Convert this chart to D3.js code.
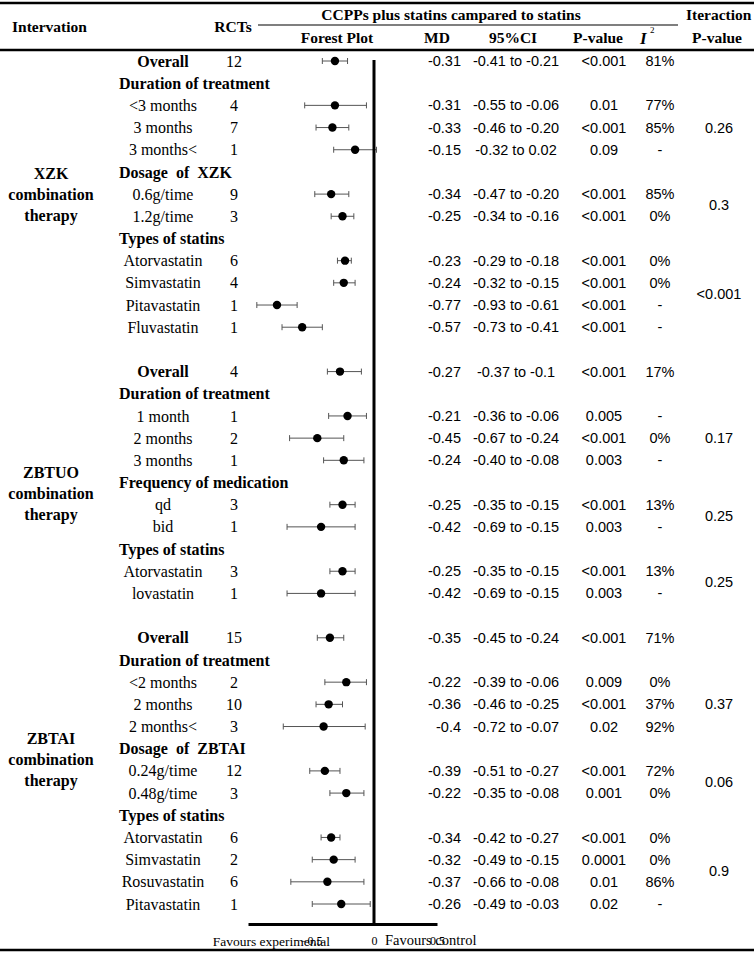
<!DOCTYPE html>
<html>
<head>
<meta charset="utf-8">
<script src="https://cdn.jsdelivr.net/npm/d3@7"></script>
<style>
  body { margin: 0; background: #fff; }
  svg { display: block; }
  .serif { font-family: "Liberation Serif", "Times New Roman", serif; }
  .sans { font-family: "Liberation Sans", Arial, sans-serif; }
</style>
</head>
<body>
<div id="chart"></div>
<script>
// rows of the table, top to bottom ("" = spacer row between therapies)
const rowLabels = [
  "Overall", "Duration of treatment", "<3 months", "3 months", "3 months<",
  "Dosage  of  XZK", "0.6g/time", "1.2g/time", "Types of statins",
  "Atorvastatin", "Simvastatin", "Pitavastatin", "Fluvastatin", "",
  "Overall", "Duration of treatment", "1 month", "2 months", "3 months",
  "Frequency of medication", "qd", "bid", "Types of statins",
  "Atorvastatin", "lovastatin", "",
  "Overall", "Duration of treatment", "<2 months", "2 months", "2 months<",
  "Dosage  of  ZBTAI", "0.24g/time", "0.48g/time", "Types of statins",
  "Atorvastatin", "Simvastatin", "Rosuvastatin", "Pitavastatin"
];
// o = overall, h = subgroup heading, i = item, b = blank
const rowTypes = [
  "o","h","i","i","i","h","i","i","h","i","i","i","i","b",
  "o","h","i","i","i","h","i","i","h","i","i","b",
  "o","h","i","i","i","h","i","i","h","i","i","i","i"
];
const rcts = [12,null,4,7,1,null,9,3,null,6,4,1,1,null,
  4,null,1,2,1,null,3,1,null,3,1,null,
  15,null,2,10,3,null,12,3,null,6,2,6,1];
const md = [-0.31,null,-0.31,-0.33,-0.15,null,-0.34,-0.25,null,-0.23,-0.24,-0.77,-0.57,null,
  -0.27,null,-0.21,-0.45,-0.24,null,-0.25,-0.42,null,-0.25,-0.42,null,
  -0.35,null,-0.22,-0.36,-0.4,null,-0.39,-0.22,null,-0.34,-0.32,-0.37,-0.26];
const ciLow = [-0.41,null,-0.55,-0.46,-0.32,null,-0.47,-0.34,null,-0.29,-0.32,-0.93,-0.73,null,
  -0.37,null,-0.36,-0.67,-0.40,null,-0.35,-0.69,null,-0.35,-0.69,null,
  -0.45,null,-0.39,-0.46,-0.72,null,-0.51,-0.35,null,-0.42,-0.49,-0.66,-0.49];
const ciHigh = [-0.21,null,-0.06,-0.20,0.02,null,-0.20,-0.16,null,-0.18,-0.15,-0.61,-0.41,null,
  -0.1,null,-0.06,-0.24,-0.08,null,-0.15,-0.15,null,-0.15,-0.15,null,
  -0.24,null,-0.06,-0.25,-0.07,null,-0.27,-0.08,null,-0.27,-0.15,-0.08,-0.03];
const ciLabels = ["-0.41 to -0.21",null,"-0.55 to -0.06","-0.46 to -0.20","-0.32 to 0.02",null,
  "-0.47 to -0.20","-0.34 to -0.16",null,"-0.29 to -0.18","-0.32 to -0.15","-0.93 to -0.61",
  "-0.73 to -0.41",null,
  "-0.37 to -0.1",null,"-0.36 to -0.06","-0.67 to -0.24","-0.40 to -0.08",null,
  "-0.35 to -0.15","-0.69 to -0.15",null,"-0.35 to -0.15","-0.69 to -0.15",null,
  "-0.45 to -0.24",null,"-0.39 to -0.06","-0.46 to -0.25","-0.72 to -0.07",null,
  "-0.51 to -0.27","-0.35 to -0.08",null,"-0.42 to -0.27","-0.49 to -0.15","-0.66 to -0.08",
  "-0.49 to -0.03"];
const pValues = ["<0.001",null,"0.01","<0.001","0.09",null,"<0.001","<0.001",null,
  "<0.001","<0.001","<0.001","<0.001",null,
  "<0.001",null,"0.005","<0.001","0.003",null,"<0.001","0.003",null,"<0.001","0.003",null,
  "<0.001",null,"0.009","<0.001","0.02",null,"<0.001","0.001",null,
  "<0.001","0.0001","0.01","0.02"];
const i2Values = ["81%",null,"77%","85%","-",null,"85%","0%",null,"0%","0%","-","-",null,
  "17%",null,"-","0%","-",null,"13%","-",null,"13%","-",null,
  "71%",null,"0%","37%","92%",null,"72%","0%",null,"0%","0%","86%","-"];
// interaction p-value, one per subgroup heading in order
const interactionP = ["0.26","0.3","<0.001","0.17","0.25","0.25","0.37","0.06","0.9"];
const therapies = ["XZK","ZBTUO","ZBTAI"];
const axisTicks = [-0.5, 0, 0.5];

const W = 754, H = 953;
const svg = d3.select("#chart").append("svg").attr("width", W).attr("height", H);

const x = d3.scaleLinear().domain([-1, 0.5]).range([248, 437]);
const y = d3.scaleLinear().domain([0, rowLabels.length - 1]).range([61, 904]);

// rules
const rule = (x1, x2, yy, w) => svg.append("line")
  .attr("x1", x1).attr("x2", x2).attr("y1", yy).attr("y2", yy)
  .attr("stroke", "#000").attr("stroke-width", w);
rule(0, W, 3, 2.5);
rule(258, 678, 25, 1.2);
rule(0, W, 50, 2.5);
rule(0, W, 950, 2.5);

// header
const head = (tx, ty, s, anchor = "middle") => svg.append("text")
  .attr("class", "serif").attr("x", tx).attr("y", ty).attr("dy", "0.35em")
  .attr("text-anchor", anchor).attr("font-weight", "bold").attr("font-size", 15.5).text(s);
head(12, 27, "Intervation", "start");
head(233, 27, "RCTs");
head(451, 15, "CCPPs plus statins campared to statins");
head(686, 15, "Iteraction", "start");
head(337, 38, "Forest Plot");
head(437, 38, "MD");
head(513, 38, "95%CI");
head(598, 38, "P-value");
head(717, 38, "P-value");
svg.append("text").attr("class", "serif").attr("x", 640).attr("y", 38).attr("dy", "0.35em")
  .attr("font-size", 17).attr("font-style", "italic").attr("font-weight", "bold").text("I");
svg.append("text").attr("class", "serif").attr("x", 650).attr("y", 30).attr("dy", "0.35em")
  .attr("font-size", 9).text("2");

const rows = rowLabels.map((label, i) => ({
  i, label, type: rowTypes[i], n: rcts[i], md: md[i], lo: ciLow[i], hi: ciHigh[i],
  ci: ciLabels[i], p: pValues[i], i2: i2Values[i]
}));
const dataRows = rows.filter(d => d.type === "o" || d.type === "i");

// row labels
svg.append("g").selectAll("text").data(rows.filter(d => d.type !== "b")).join("text")
  .attr("class", "serif")
  .attr("x", d => d.type === "h" ? 119 : 163)
  .attr("y", d => y(d.i)).attr("dy", "0.35em")
  .attr("text-anchor", d => d.type === "h" ? "start" : "middle")
  .attr("font-size", 16)
  .attr("font-weight", d => d.type === "i" ? "normal" : "bold")
  .style("white-space", "pre")
  .text(d => d.label);

// RCT counts
svg.append("g").selectAll("text").data(dataRows).join("text")
  .attr("class", "serif").attr("x", 234).attr("y", d => y(d.i)).attr("dy", "0.35em")
  .attr("text-anchor", "middle").attr("font-size", 16).text(d => d.n);

// numeric columns
const num = svg.append("g").attr("class", "sans").attr("font-size", 14.5);
num.selectAll(".md").data(dataRows).join("text").attr("class", "md")
  .attr("x", 461).attr("y", d => y(d.i)).attr("dy", "0.35em").attr("text-anchor", "end")
  .text(d => String(d.md));
num.selectAll(".ci").data(dataRows).join("text").attr("class", "ci")
  .attr("x", 516).attr("y", d => y(d.i)).attr("dy", "0.35em").attr("text-anchor", "middle")
  .text(d => d.ci);
num.selectAll(".p").data(dataRows).join("text").attr("class", "p")
  .attr("x", 604).attr("y", d => y(d.i)).attr("dy", "0.35em").attr("text-anchor", "middle")
  .text(d => d.p);
num.selectAll(".i2").data(dataRows).join("text").attr("class", "i2")
  .attr("x", 660).attr("y", d => y(d.i)).attr("dy", "0.35em").attr("text-anchor", "middle")
  .text(d => d.i2);

// interaction p-values, centred on the items of each subgroup
const headings = rows.filter(d => d.type === "h");
const interRows = headings.map((h, k) => {
  const items = [];
  for (let j = h.i + 1; j < rows.length && rows[j].type === "i"; j++) items.push(j);
  return { pos: d3.mean(items), p: interactionP[k] };
});
num.selectAll(".ip").data(interRows).join("text").attr("class", "ip")
  .attr("x", 719).attr("y", d => y(d.pos)).attr("dy", "0.35em").attr("text-anchor", "middle")
  .text(d => d.p);

// therapy labels
const groupLabelRow = [6, 19.5, 31.5];
therapies.forEach((t, k) => {
  const lines = [t, "combination", "therapy"];
  svg.append("g").selectAll("text").data(lines).join("text")
    .attr("class", "serif").attr("x", 51)
    .attr("y", (s, j) => y(groupLabelRow[k]) + (j - 1) * 21).attr("dy", "0.35em")
    .attr("text-anchor", "middle").attr("font-size", 16).attr("font-weight", "bold")
    .text(s => s);
});

// forest plot
const plot = svg.append("g");
const cap = 3;
plot.selectAll(".whisk").data(dataRows).join("line").attr("class", "whisk")
  .attr("x1", d => x(d.lo)).attr("x2", d => x(d.hi))
  .attr("y1", d => y(d.i)).attr("y2", d => y(d.i))
  .attr("stroke", "#555").attr("stroke-width", 1);
["lo", "hi"].forEach(k => {
  plot.selectAll(".cap-" + k).data(dataRows).join("line").attr("class", "cap-" + k)
    .attr("x1", d => x(d[k])).attr("x2", d => x(d[k]))
    .attr("y1", d => y(d.i) - cap).attr("y2", d => y(d.i) + cap)
    .attr("stroke", "#555").attr("stroke-width", 1);
});
plot.selectAll("circle").data(dataRows).join("circle")
  .attr("cx", d => x(d.md)).attr("cy", d => y(d.i)).attr("r", 4.2).attr("fill", "#000");

// zero line and axis
const axisY = 924;
plot.append("line").attr("x1", x(0)).attr("x2", x(0)).attr("y1", 60).attr("y2", axisY)
  .attr("stroke", "#000").attr("stroke-width", 3);
const axis = svg.append("g").attr("transform", `translate(0,${axisY})`)
  .call(d3.axisBottom(x).tickValues(axisTicks).tickSize(0).tickPadding(12)
    .tickFormat(d => d === 0 ? "0" : d3.format(".1f")(d)));
axis.select(".domain").attr("stroke-width", 3);
axis.selectAll("text").attr("font-size", 12).attr("fill", "#000")
  .attr("font-family", "Liberation Serif");

svg.append("text").attr("class", "serif").attr("x", 330).attr("y", 941).attr("dy", "0.35em")
  .attr("text-anchor", "end").attr("font-size", 13.5).text("Favours experimental");
svg.append("text").attr("class", "serif").attr("x", 385).attr("y", 940).attr("dy", "0.35em")
  .attr("text-anchor", "start").attr("font-size", 14.5).text("Favours control");
</script>
</body>
</html>
